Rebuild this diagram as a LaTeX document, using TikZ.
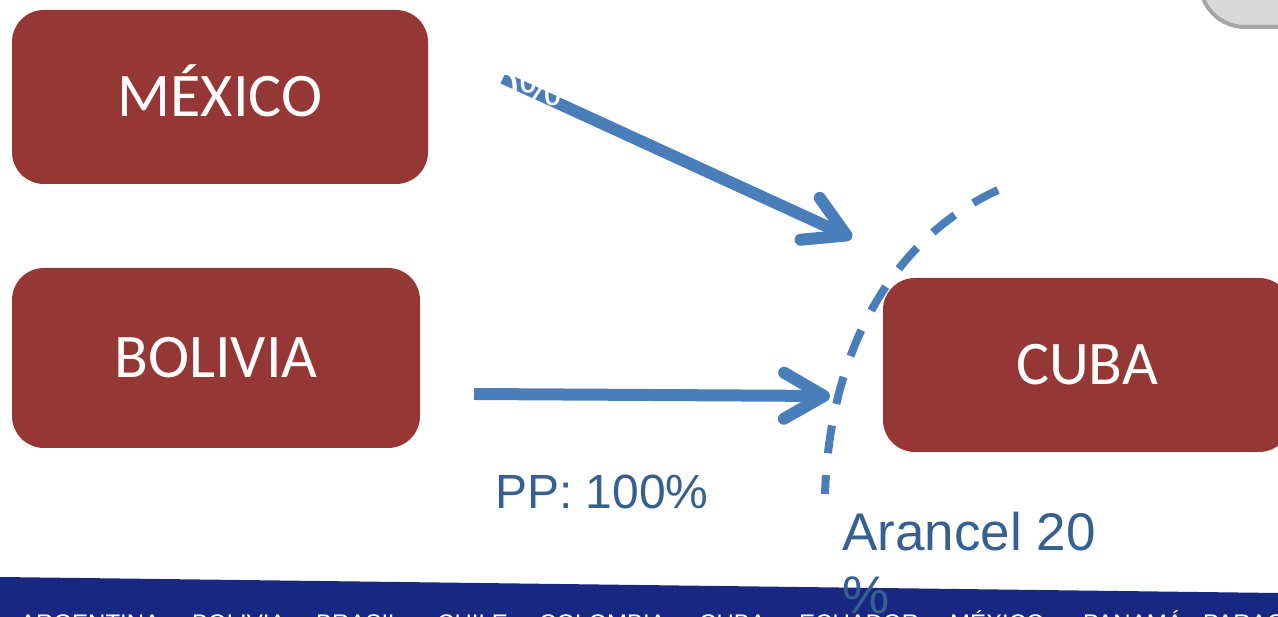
\documentclass[tikz,border=0pt]{standalone}
\usepackage{fontspec}
\setmainfont{Liberation Sans}
\newfontfamily\boxfont{Carlito}
\usepackage{tikz}
\usetikzlibrary{arrows.meta}

\definecolor{boxred}{RGB}{149,55,53}
\definecolor{arrowblue}{RGB}{74,126,187}
\definecolor{labelblue}{RGB}{55,96,146}
\definecolor{bandblue}{RGB}{24,40,128}

\begin{document}
\begin{tikzpicture}[x=1pt,y=-1pt,
    country/.style={rectangle,rounded corners=32pt,fill=boxred,text=white,inner sep=0pt,
                    text height=39pt,text depth=0pt,
                    font=\boxfont\fontsize{62}{70}\selectfont},
    flow/.style={draw=arrowblue,line width=12pt,-{Straight Barb[length=40pt,width=46pt,round]}},
    arcdash/.style={draw=arrowblue,line width=8pt,dash pattern=on 28pt off 22pt},
    lbl/.style={text=labelblue,inner sep=0pt,font=\fontsize{48}{56}\selectfont},
    bandtxt/.style={text=white,inner sep=0pt,anchor=base west,font=\fontsize{24}{28}\selectfont}]

    \useasboundingbox (0,0) rectangle (1278,617);
    \clip (0,0) rectangle (1278,617);

    % band at the bottom
    \fill[bandblue] (0,577) -- (1278,593) -- (1278,660) -- (0,660) -- cycle;
    \node[bandtxt] (arg) at (20,631)   {ARGENTINA};
    \node[bandtxt] (bol) at (192,631)  {BOLIVIA};
    \node[bandtxt] (bra) at (316,631)  {BRASIL};
    \node[bandtxt] (chi) at (437,631)  {CHILE};
    \node[bandtxt] (col) at (539,631)  {COLOMBIA};
    \node[bandtxt] (cub) at (699,631)  {CUBA};
    \node[bandtxt] (ecu) at (799,631)  {ECUADOR};
    \node[bandtxt] (mex) at (950,631)  {MÉXICO};
    \node[bandtxt] (pan) at (1083,631) {PANAMÁ};
    \node[bandtxt] (par) at (1203,631) {PARAGUAY};

    % corner of the grey button
    \draw[fill=gray!30,draw=gray!70,line width=4pt,rounded corners=45pt] (1200,-80) rectangle (1360,27);

    \coordinate (mxs) at (503,78);
    \coordinate (mxe) at (852,238);
    \coordinate (bos) at (474,394);
    \coordinate (boe) at (830,396);
    \coordinate (arcs) at (998,190);
    \coordinate (arce) at (825,494);

    \draw (mxs) edge[flow] (mxe);
    \draw (bos) edge[flow] (boe);

    \node[lbl,text=white,anchor=base east] (pmx) at (562,106) {100\%};

    \node[country,minimum width=416pt,minimum height=174pt] (mexico)  at (220,97)  {MÉXICO};
    \node[country,minimum width=408pt,minimum height=180pt] (bolivia) at (216,358) {BOLIVIA};
    \node[country,minimum width=408pt,minimum height=174pt] (cuba)    at (1087,365) {CUBA};

    \draw[arcdash] (arcs) .. controls (900,235) and (830,340) .. (arce);

    \node[lbl,anchor=base west] (pbo) at (495,508) {PP: 100\%};
    \node[lbl,anchor=base west,align=left,font=\fontsize{53}{63}\selectfont] (arancel) at (842,613) {Arancel 20\\\%};
\end{tikzpicture}
\end{document}
